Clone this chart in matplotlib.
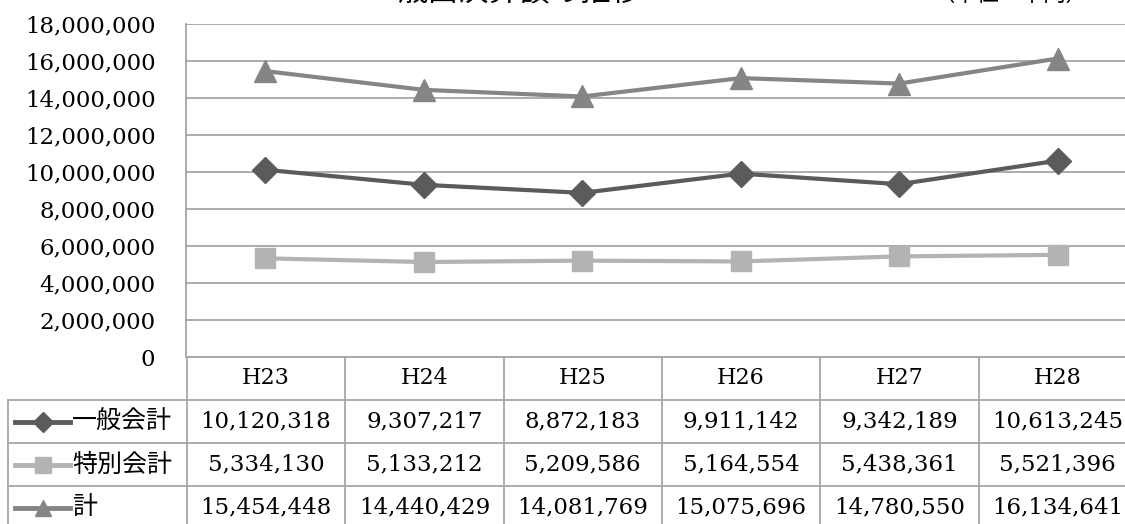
import matplotlib.pyplot as plt
from matplotlib.ticker import FuncFormatter

years = ['H23', 'H24', 'H25', 'H26', 'H27', 'H28']
general = [10120318, 9307217, 8872183, 9911142, 9342189, 10613245]
special = [5334130, 5133212, 5209586, 5164554, 5438361, 5521396]
total = [15454448, 14440429, 14081769, 15075696, 14780550, 16134641]
names = ['一般会計', '特別会計', '計']

series = [general, special, total]
colors = ['#5b5b5b', '#b3b3b3', '#858585']
markers = ['D', 's', '^']
msizes = [13, 15, 16]

jp = ['Noto Sans CJK JP', 'DejaVu Sans']
serif = 'DejaVu Serif'
grid_c = '#a6a6a6'

W, H = 1125, 524
fig = plt.figure(figsize=(W / 100, H / 100), dpi=100)


def box(x0, y0, x1, y1):
    # pixel box (top-left origin) -> figure fraction rect
    return [x0 / W, 1 - y1 / H, (x1 - x0) / W, (y1 - y0) / H]


# line chart
ax = fig.add_axes(box(186, 24, 1137, 357))
x = range(len(years))
for vals, c, m, ms in zip(series, colors, markers, msizes):
    ax.plot(x, vals, color=c, lw=3, marker=m, ms=ms, mec=c, mfc=c, zorder=3)

ax.set_xlim(-0.5, len(years) - 0.5)
ax.set_ylim(0, 18000000)
ax.set_yticks(range(0, 18000001, 2000000))
ax.yaxis.set_major_formatter(FuncFormatter(lambda v, p: f'{int(v):,}'))
ax.set_xticks([])
ax.tick_params(axis='y', length=0, pad=22, labelsize=16.5)
for lb in ax.get_yticklabels():
    lb.set_family(serif)
ax.grid(axis='y', color=grid_c, lw=1.3)
ax.set_axisbelow(True)
for s in ['top', 'right', 'bottom']:
    ax.spines[s].set_visible(False)
ax.spines['left'].set_color(grid_c)
ax.spines['left'].set_linewidth(1.3)

# title strip (cut off at the top of the image, as in the source)
fig.text(519 / W, 1 - 1 / H, '歳出決算額の推移', ha='center', va='baseline',
         fontsize=22, family=jp)
fig.text(1010 / W, 1 - 1 / H, '（単位：千円）', ha='center', va='baseline',
         fontsize=16, family=jp)

# data table underneath
tx = fig.add_axes(box(8, 357, 1137, 529))
left = -0.5 - 179 / 158.5
n = len(years)
tx.set_xlim(left, n - 0.5)
tx.set_ylim(4, 0)
tx.axis('off')

lk = dict(color=grid_c, lw=1.3, clip_on=False)
tx.plot([-0.5, n - 0.5], [0, 0], **lk)
for r in [1, 2, 3, 4]:
    tx.plot([left, n - 0.5], [r, r], **lk)
for k in range(n + 1):
    tx.plot([k - 0.5, k - 0.5], [0, 4], **lk)
tx.plot([left, left], [1, 4], **lk)

for i, yr in enumerate(years):
    tx.text(i, 0.5, yr, ha='center', va='center', fontsize=16, family=serif)

u = 1 / 158.5
for r, (nm, vals, c, m, ms) in enumerate(zip(names, series, colors, markers, msizes)):
    yy = r + 1.5
    tx.plot([left + 7 * u, left + 62 * u], [yy, yy], color=c, lw=3.5, clip_on=False)
    tx.plot([left + 35 * u], [yy], marker=m, ms=ms * 0.75, color=c, clip_on=False)
    tx.text(left + 64 * u, yy, nm, ha='left', va='center', fontsize=18, family=jp)
    for i, v in enumerate(vals):
        tx.text(i, yy, f'{v:,}', ha='center', va='center', fontsize=16.5,
                family=serif)

fig.savefig('out.png', dpi=100)
